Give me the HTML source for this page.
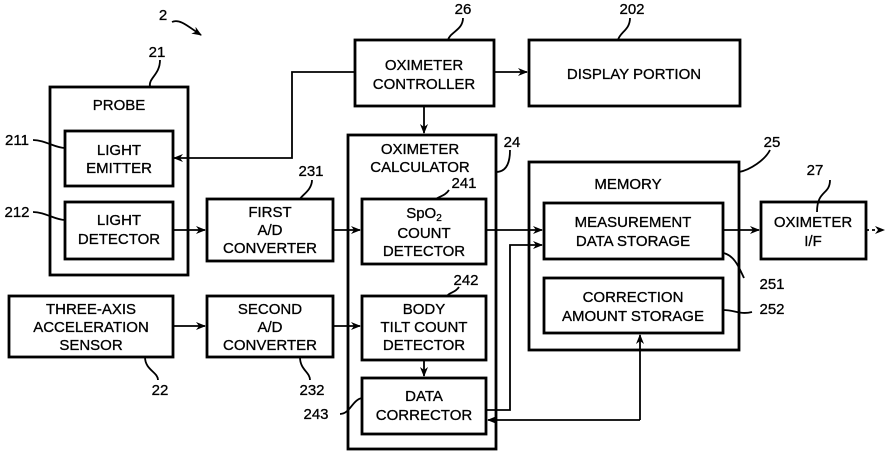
<!DOCTYPE html>
<html><head><style>
body{margin:0;background:#fff}
svg text{font-family:"Liberation Sans",sans-serif;font-size:15px;fill:#000;text-anchor:middle;stroke:#000;stroke-width:0.3}
</style></head><body>
<svg width="889" height="452" viewBox="0 0 889 452" xmlns="http://www.w3.org/2000/svg">
<defs><marker id="a" markerWidth="10" markerHeight="8" refX="9" refY="4" orient="auto" markerUnits="userSpaceOnUse"><path d="M0,0 L10,4 L0,8 L3,4z" fill="#000"/></marker></defs>
<g fill="none" stroke="#000" stroke-width="2.8">
<rect x="50" y="87" width="138" height="188"/>
<rect x="65" y="131" width="108" height="55"/>
<rect x="65" y="202" width="108" height="57"/>
<rect x="207" y="199" width="126" height="62"/>
<rect x="9" y="296" width="164" height="61"/>
<rect x="207" y="296" width="126" height="61"/>
<rect x="355" y="40" width="139" height="66"/>
<rect x="529" y="40" width="211" height="66"/>
<rect x="348" y="135" width="148" height="314"/>
<rect x="362" y="199" width="124" height="65"/>
<rect x="362" y="296" width="124" height="64"/>
<rect x="362" y="378" width="124" height="56"/>
<rect x="529" y="162" width="210" height="188"/>
<rect x="544" y="203" width="179" height="56"/>
<rect x="544" y="278" width="179" height="55"/>
<rect x="761" y="202" width="105" height="57"/>
</g>
<g fill="none" stroke="#000" stroke-width="1.8">
<path d="M355,72 H292 V158 H174" marker-end="url(#a)"/>
<path d="M494,72 H527" marker-end="url(#a)"/>
<path d="M424,106 V133" marker-end="url(#a)"/>
<path d="M173,230 H205" marker-end="url(#a)"/>
<path d="M333,230 H360" marker-end="url(#a)"/>
<path d="M173,326 H205" marker-end="url(#a)"/>
<path d="M333,326 H360" marker-end="url(#a)"/>
<path d="M486,230 H542" marker-end="url(#a)"/>
<path d="M486,410 H510 V245 H542" marker-end="url(#a)"/>
<path d="M424,360 V376" marker-end="url(#a)"/>
<path d="M723,230 H759" marker-end="url(#a)"/>
<path d="M866,230 H884" stroke-dasharray="3,3" marker-end="url(#a)"/>
<path d="M640,420 H488" marker-end="url(#a)"/>
<path d="M640,420 V335" marker-end="url(#a)"/>
<path d="M172,22 C180,18 190,28 201,35" marker-end="url(#a)"/>
<path d="M160,60 C160,75 148,78 150,87"/>
<path d="M33,140 C45,140 55,148 65,148"/>
<path d="M33,212 C45,212 55,220 65,220"/>
<path d="M463,18 C463,30 450,32 448,40"/>
<path d="M630,18 C630,30 620,32 618,40"/>
<path d="M312,180 C312,190 302,195 300,199"/>
<path d="M510,150 C510,165 505,172 496,172"/>
<path d="M770,150 C765,160 750,170 739,172"/>
<path d="M817,212 C817,190 830,195 830,180"/>
<path d="M449,190 C445,196 440,196 436,199"/>
<path d="M459,287 C455,293 450,292 447,296"/>
<path d="M723,253 C735,255 740,270 744,278"/>
<path d="M723,310 C735,310 740,315 752,312"/>
<path d="M145,357 C145,370 158,372 158,380"/>
<path d="M300,357 C300,370 310,372 310,380"/>
<path d="M340,414 C350,414 352,400 362,398"/>
</g>
<g>
<text x="163" y="20">2</text>
<text x="157" y="57">21</text>
<text x="119" y="110">PROBE</text>
<text x="17" y="145">211</text>
<text x="17" y="217">212</text>
<text x="119" y="155">LIGHT</text><text x="119" y="173">EMITTER</text>
<text x="119" y="225">LIGHT</text><text x="119" y="244">DETECTOR</text>
<text x="270" y="217">FIRST</text><text x="270" y="235">A/D</text><text x="270" y="253">CONVERTER</text>
<text x="311" y="176">231</text>
<text x="91" y="314">THREE-AXIS</text><text x="91" y="332">ACCELERATION</text><text x="91" y="350">SENSOR</text>
<text x="270" y="314">SECOND</text><text x="270" y="332">A/D</text><text x="270" y="350">CONVERTER</text>
<text x="160" y="395">22</text>
<text x="312" y="395">232</text>
<text x="316" y="419">243</text>
<text x="463" y="14">26</text>
<text x="632" y="14">202</text>
<text x="424" y="70">OXIMETER</text><text x="424" y="89">CONTROLLER</text>
<text x="634" y="79">DISPLAY PORTION</text>
<text x="420" y="154">OXIMETER</text><text x="420" y="172">CALCULATOR</text>
<text x="512" y="147">24</text>
<text x="464" y="188">241</text>
<text x="424" y="218">SpO<tspan font-size="10" dy="3">2</tspan></text><text x="424" y="238">COUNT</text><text x="424" y="256">DETECTOR</text>
<text x="466" y="285">242</text>
<text x="424" y="314">BODY</text><text x="424" y="332">TILT COUNT</text><text x="424" y="350">DETECTOR</text>
<text x="424" y="401">DATA</text><text x="424" y="420">CORRECTOR</text>
<text x="628" y="189">MEMORY</text>
<text x="772" y="147">25</text>
<text x="633" y="227">MEASUREMENT</text><text x="633" y="246">DATA STORAGE</text>
<text x="633" y="302">CORRECTION</text><text x="633" y="321">AMOUNT STORAGE</text>
<text x="772" y="289">251</text>
<text x="772" y="314">252</text>
<text x="815" y="175">27</text>
<text x="813" y="227">OXIMETER</text><text x="813" y="246">I/F</text>
</g>
</svg>
</body></html>
